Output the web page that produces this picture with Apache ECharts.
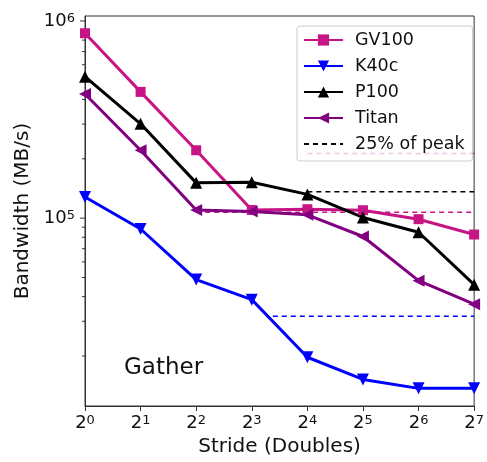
<!DOCTYPE html>
<html>
<head>
<meta charset="utf-8">
<script src="https://cdn.jsdelivr.net/npm/echarts@6/dist/echarts.min.js"></script>
<style>
  html, body { margin: 0; padding: 0; background: #fff; }
  #main { width: 487px; height: 462px; }
</style>
</head>
<body>
<div id="main"></div>
<script>
// stride values (doubles) and measured bandwidth (MB/s)
var strides = [1, 2, 4, 8, 16, 32, 64, 128];
var gv100 = [867000, 437000, 221000, 110000, 111000, 109700, 98800, 82600];
var k40c = [128000, 88100, 48800, 38600, 19700, 15200, 13700, 13700];
var p100 = [522000, 301000, 151000, 152000, 132000, 100800, 84800, 46000];
var titan = [426000, 221000, 110000, 108000, 104000, 80700, 48200, 36600];

// 25% of peak lines: [start stride, value]
var peakGV100 = [4, 107000];
var peakK40c = [10.4, 31800];
var peakP100 = [16, 136000];
var peakTitan = [16, 213000];

// y axis ticks
var yMajorTicks = [100000, 1000000];
var yMinorTicks = [20000, 30000, 40000, 50000, 60000, 70000, 80000, 90000,
                   200000, 300000, 400000, 500000, 600000, 700000, 800000, 900000];

var FONT = 'DejaVu Sans';
var colors = {gv100: '#c71585', k40c: '#0000ff', p100: '#000000', titan: '#800080'};

function pairs(ys) {
    var out = [];
    for (var i = 0; i < strides.length; i++) {
        out.push([strides[i], ys[i]]);
    }
    return out;
}

function peakLine(name, p, color) {
    return {
        name: name,
        type: 'line',
        data: [[p[0], p[1]], [128, p[1]]],
        symbol: 'none',
        lineStyle: {color: color, width: 1.5, type: [5, 4]},
        itemStyle: {color: color},
        z: 1
    };
}

function solidLine(name, ys, color, symbol, rotate, size) {
    return {
        name: name,
        type: 'line',
        data: pairs(ys),
        symbol: symbol,
        symbolSize: size,
        symbolRotate: rotate,
        lineStyle: {color: color, width: 3},
        itemStyle: {color: color},
        z: 3
    };
}

var tickData = [];
yMajorTicks.forEach(function (v) { tickData.push([1, v, 5]); });
yMinorTicks.forEach(function (v) { tickData.push([1, v, 3]); });

var myChart = echarts.init(document.getElementById('main'));

var option = {
    animation: false,
    grid: {
        left: 85,
        right: 5,
        top: 16,
        bottom: 51,
        show: true,
        borderColor: '#333',
        borderWidth: 1
    },
    legend: {
        left: 297,
        top: 26,
        orient: 'vertical',
        itemWidth: 39,
        itemHeight: 14,
        itemGap: 8,
        padding: [5, 8, 8, 6],
        backgroundColor: 'rgba(255,255,255,0.8)',
        borderColor: '#ccc',
        borderWidth: 1,
        borderRadius: 3,
        z: 10,
        textStyle: {fontFamily: FONT, fontSize: 17.5, color: '#111', padding: [0, 0, 0, 7]},
        data: ['GV100', 'K40c', 'P100', 'Titan',
               {name: '25% of peak', itemStyle: {opacity: 0}}]
    },
    xAxis: {
        type: 'log',
        logBase: 2,
        min: 1,
        max: 128,
        interval: 1,
        name: 'Stride (Doubles)',
        nameLocation: 'middle',
        nameGap: 31,
        nameTextStyle: {fontFamily: FONT, fontSize: 20, color: '#111'},
        axisLine: {lineStyle: {color: '#333'}},
        axisTick: {length: 5, lineStyle: {color: '#333'}},
        splitLine: {show: false},
        axisLabel: {
            margin: 8,
            fontFamily: FONT,
            fontSize: 18,
            color: '#111',
            formatter: function (v) {
                return '2{sup|' + Math.round(Math.log2(v)) + '}';
            },
            rich: {
                sup: {fontFamily: FONT, fontSize: 13, color: '#111', verticalAlign: 'top', lineHeight: 12}
            }
        }
    },
    yAxis: {
        type: 'log',
        logBase: 10,
        min: 11150,
        max: 1060000,
        name: 'Bandwidth (MB/s)',
        nameLocation: 'middle',
        nameGap: 36,
        nameTextStyle: {fontFamily: FONT, fontSize: 20, color: '#111'},
        axisLine: {lineStyle: {color: '#333'}},
        axisTick: {show: false},
        splitLine: {show: false},
        axisLabel: {
            margin: 10,
            fontFamily: FONT,
            fontSize: 18,
            color: '#111',
            formatter: function (v) {
                var e = Math.log10(v);
                if (Math.abs(e - Math.round(e)) > 1e-6) return '';
                return '10{sup|' + Math.round(e) + '}';
            },
            rich: {
                sup: {fontFamily: FONT, fontSize: 13, color: '#111', verticalAlign: 'top', lineHeight: 12}
            }
        }
    },
    graphic: [{
        type: 'text',
        left: 124,
        top: 357,
        style: {text: 'Gather', fontFamily: FONT, fontSize: 23, fill: '#111'}
    }],
    series: [
        peakLine('gv100peak', peakGV100, colors.gv100),
        peakLine('k40cpeak', peakK40c, colors.k40c),
        peakLine('25% of peak', peakP100, colors.p100),
        peakLine('titanpeak', peakTitan, colors.titan),
        solidLine('GV100', gv100, colors.gv100, 'rect', 0, 10),
        solidLine('K40c', k40c, colors.k40c, 'triangle', 180, 12),
        solidLine('P100', p100, colors.p100, 'triangle', 0, 12),
        solidLine('Titan', titan, colors.titan, 'triangle', 90, 12),
        {
            name: 'yticks',
            type: 'custom',
            data: tickData,
            silent: true,
            clip: false,
            renderItem: function (params, api) {
                var p = api.coord([api.value(0), api.value(1)]);
                var len = api.value(2);
                return {
                    type: 'line',
                    shape: {x1: p[0] - len, y1: p[1], x2: p[0], y2: p[1]},
                    style: {stroke: '#333', lineWidth: 1}
                };
            }
        }
    ]
};

myChart.setOption(option);
</script>
</body>
</html>
